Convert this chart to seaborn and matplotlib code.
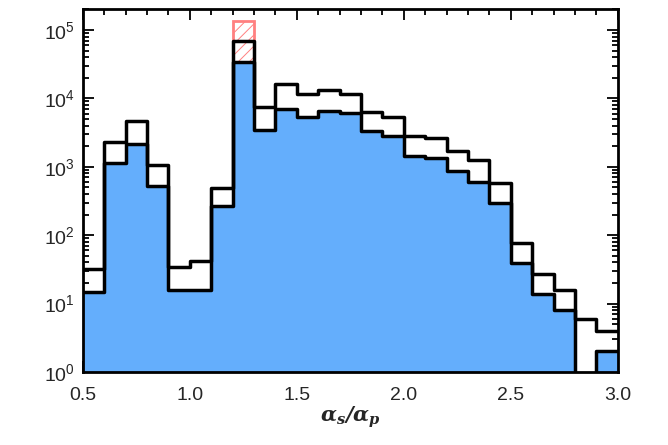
import numpy as np
import seaborn as sns
import matplotlib.pyplot as plt
from matplotlib.ticker import MultipleLocator, LogLocator

# bin edges of the alpha_s/alpha_p histogram
edges = [0.5, 0.6, 0.7, 0.8, 0.9, 1.0, 1.1, 1.2, 1.3, 1.4, 1.5, 1.6, 1.7,
         1.8, 1.9, 2.0, 2.1, 2.2, 2.3, 2.4, 2.5, 2.6, 2.7, 2.8, 2.9, 3.0]
centers = [0.55, 0.65, 0.75, 0.85, 0.95, 1.05, 1.15, 1.25, 1.35, 1.45,
           1.55, 1.65, 1.75, 1.85, 1.95, 2.05, 2.15, 2.25, 2.35, 2.45,
           2.55, 2.65, 2.75, 2.85, 2.95]
# all events (black outline)
total = [32, 2300, 4670, 1060, 34, 42, 490, 69000, 7480, 16200, 11600,
         13300, 11600, 6330, 5350, 2820, 2640, 1700, 1260, 580, 77, 27,
         16, 6, 4]
# subset (blue filled)
subset = [15, 1140, 2150, 524, 16, 16, 267, 34000, 3450, 7000, 5350, 6550,
          6120, 3340, 2820, 1440, 1345, 868, 600, 296, 39, 14, 8, 0, 2]
# red hatched bin
peak_center = [1.25]
peak_edges = [1.2, 1.3]
peak_value = [135000]

sns.set_style("ticks")
plt.rcParams['font.family'] = ['Liberation Sans', 'DejaVu Sans']
plt.rcParams['mathtext.fontset'] = 'custom'
plt.rcParams['mathtext.rm'] = 'Liberation Sans'
plt.rcParams['mathtext.it'] = 'Liberation Sans:italic'
plt.rcParams['mathtext.bf'] = 'DejaVu Serif:bold:italic'
plt.rcParams['hatch.linewidth'] = 0.7

fig = plt.figure(figsize=(6.68, 4.45), dpi=100)
ax = fig.add_axes([0.124, 0.164, 0.801, 0.816])
ax.set_yscale('log')

sns.histplot(x=peak_center, weights=peak_value, bins=peak_edges, ax=ax,
             element='bars', fill=False, hatch='///', color='#ff8080',
             linewidth=2, zorder=1)
sns.histplot(x=centers, weights=subset, bins=edges, ax=ax, element='step',
             fill=True, color='#64aefc', alpha=1, linewidth=0, zorder=2)
sns.histplot(x=centers, weights=subset, bins=edges, ax=ax, element='step',
             fill=False, color='black', linewidth=2.5, zorder=3)
sns.histplot(x=centers, weights=total, bins=edges, ax=ax, element='step',
             fill=False, color='black', linewidth=2.5, zorder=3)

ax.set_xlim(0.5, 3.0)
ax.set_ylim(1, 2.03e5)
ax.set_ylabel('')
ax.set_xlabel(r'$\mathbf{\alpha_s/\alpha_p}$', fontsize=15, labelpad=0)

ax.xaxis.set_major_locator(MultipleLocator(0.5))
ax.xaxis.set_minor_locator(MultipleLocator(0.1))
ax.yaxis.set_major_locator(LogLocator(base=10, numticks=10))
ax.yaxis.set_minor_locator(LogLocator(base=10, subs=np.arange(2, 10), numticks=10))
ax.xaxis.set_major_formatter(plt.FormatStrFormatter('%.1f'))
ax.tick_params(which='both', direction='in', top=True, right=True,
               labelsize=14, width=1.3, color='black', zorder=5)
ax.tick_params(which='major', length=8)
ax.tick_params(which='minor', length=4)
ax.tick_params(axis='x', which='major', pad=11)
ax.tick_params(axis='y', which='major', pad=6)
for s in ax.spines.values():
    s.set_linewidth(2)
    s.set_color('black')
    s.set_zorder(6)

fig.savefig('out.png', dpi=100)
